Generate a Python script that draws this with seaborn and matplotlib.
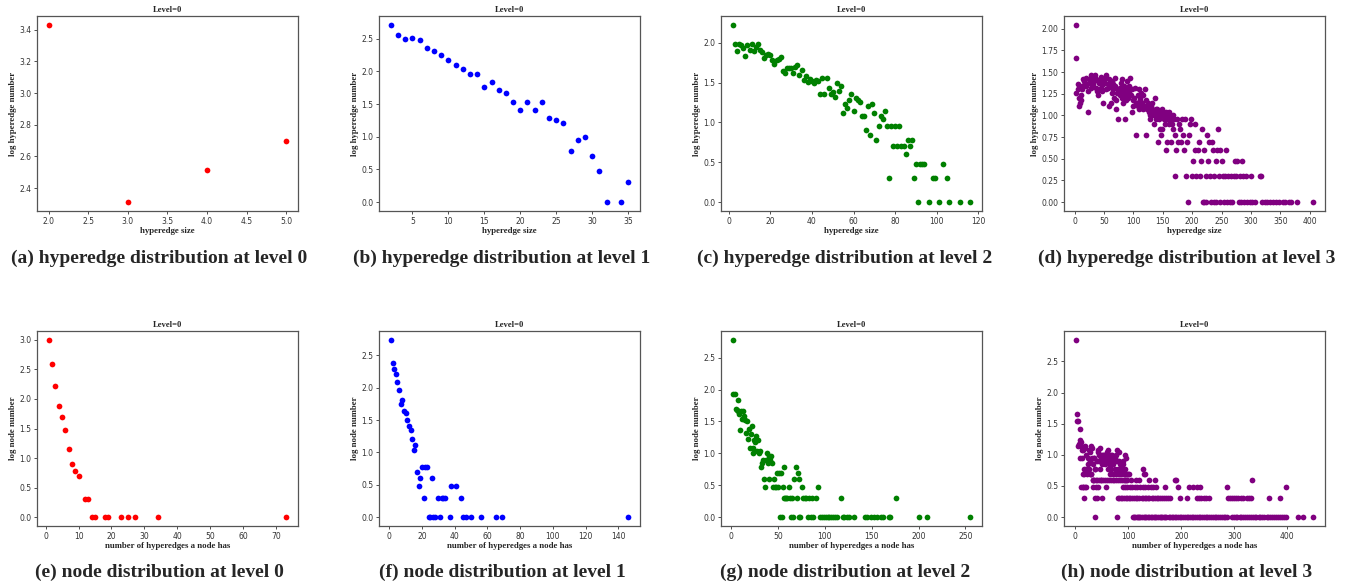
import numpy as np
import pandas as pd
import seaborn as sns
import matplotlib.pyplot as plt
from matplotlib.ticker import MultipleLocator

# counts; plotted as log10(count)

# (a) hyperedges, level 0
he0_size = [2, 3, 4, 5]
he0_count = [2690, 205, 325, 500]

# (b) hyperedges, level 1
he1_size = [2, 3, 4, 5, 6, 7, 8, 9, 10, 11, 12, 13, 14, 15, 16, 17, 18, 19, 20, 21,
            22, 23, 24, 25, 26, 27, 28, 29, 30, 31, 32, 34, 35]
he1_count = [513, 355, 316, 320, 296, 229, 204, 176, 148, 127, 108, 90, 91, 58, 69, 52, 47, 34, 26, 34,
             26, 34, 19, 18, 16, 6, 9, 10, 5, 3, 1, 1, 2]

# (c) hyperedges, level 2
he2_size = list(range(2, 95)) + [96, 98, 99, 101, 103, 105, 106, 111, 116]
he2_count = [168, 96, 80, 98, 94, 87, 69, 93, 81, 96,
             80, 89, 96, 81, 76, 64, 71, 73, 71, 61,
             54, 61, 63, 66, 44, 42, 48, 48, 48, 42,
             49, 52, 40, 45, 34, 38, 32, 35, 33, 31,
             34, 33, 23, 36, 23, 36, 27, 23, 24, 21,
             31, 25, 29, 13, 17, 15, 19, 23, 14, 20,
             19, 18, 12, 12, 8, 16, 7, 17, 13, 6,
             9, 12, 11, 14, 9, 2, 9, 5, 9, 5,
             9, 5, 5, 4, 6, 5, 6, 2, 3, 1,
             3, 3, 3, 1, 2, 2, 1, 3, 2, 1, 1, 1]

# (d) hyperedges, level 3: dense part as (size, count) pairs, tail bands as sizes
he3_points = [(2, 111), (3, 46), (5, 23), (3, 18), (7, 16), (9, 14), (7, 13), (10, 15), (11, 17), (13, 20),
              (14, 26), (17, 24), (20, 22), (22, 11), (23, 19), (26, 26), (28, 21), (29, 28), (32, 23), (35, 29),
              (37, 21), (39, 17), (40, 25), (43, 26), (44, 21), (46, 19), (48, 14), (49, 23), (52, 27), (54, 29),
              (56, 23), (57, 21), (58, 13), (61, 14), (63, 18), (65, 20), (66, 23), (68, 27), (70, 15), (71, 12),
              (72, 18), (74, 9), (75, 19), (78, 21), (80, 26), (81, 16), (83, 19), (85, 9), (86, 17), (88, 15),
              (90, 19), (92, 22), (95, 27), (96, 17), (98, 11), (99, 15), (103, 21), (105, 6), (106, 14), (108, 17),
              (111, 15), (113, 18), (114, 13), (116, 17), (119, 20), (120, 13), (121, 6), (122, 15), (125, 14),
              (126, 11), (128, 9), (129, 10), (131, 14), (133, 11), (135, 8), (137, 16), (139, 9), (141, 12),
              (142, 5), (144, 9), (145, 7), (147, 6), (149, 7), (150, 11), (153, 9), (154, 8), (156, 4), (157, 5),
              (159, 10), (161, 11), (163, 9), (164, 5), (166, 8), (168, 7), (170, 6), (172, 4), (174, 9), (176, 5),
              (178, 8), (179, 7), (181, 5), (183, 9), (184, 6), (186, 4), (188, 9), (191, 5), (194, 6), (196, 8),
              (198, 9), (204, 4), (205, 8), (210, 4), (212, 5), (217, 7), (220, 4), (226, 6), (229, 5), (234, 5),
              (235, 4), (243, 4), (244, 7), (248, 4), (258, 4),
              (6, 20), (12, 22), (16, 25), (19, 27), (24, 24), (27, 29), (31, 25), (34, 27), (38, 19), (42, 24),
              (45, 28), (50, 25), (53, 20), (59, 26), (62, 22), (64, 25), (67, 16), (69, 22), (73, 20), (77, 17),
              (79, 24), (82, 14), (84, 22), (87, 20), (89, 25), (91, 16), (93, 18), (97, 20), (100, 13), (101, 16),
              (104, 14), (107, 13), (109, 20), (110, 12), (112, 16), (115, 14), (117, 12), (118, 13), (123, 12),
              (124, 13), (127, 12), (130, 13), (132, 12), (134, 10), (136, 11), (138, 12), (140, 10), (143, 11),
              (146, 10), (148, 12), (151, 10), (152, 9), (155, 11), (158, 9), (160, 8), (162, 10), (165, 9),
              (167, 10), (169, 9)]
he3_size_1 = [193, 218, 221, 224, 232, 237, 241, 247, 255, 259, 264, 268, 279, 283, 289, 293, 298, 302,
              307, 319, 324, 327, 332, 337, 343, 348, 354, 358, 365, 369, 378, 406]
he3_size_2 = [171, 190, 200, 207, 213, 223, 230, 238, 246, 252, 256, 261, 266, 271, 275, 281, 286, 291,
              300, 315, 317]
he3_size_3 = [201, 215, 227, 240, 250, 273, 276, 285]

# (e) nodes, level 0
nd0_deg = [1, 2, 3, 4, 5, 6, 7, 8, 9, 10, 12, 13, 14, 15, 18, 19, 23, 25, 27, 34, 73]
nd0_count = [1000, 398, 166, 75, 49, 30, 14, 8, 6, 5, 2, 2, 1, 1, 1, 1, 1, 1, 1, 1, 1]

# (f) nodes, level 1
nd1_deg = list(range(1, 24)) + [24, 25, 26, 27, 28, 30, 31, 32, 33, 34, 37, 38, 41, 44, 45, 47, 50,
                                56, 65, 69, 146]
nd1_count = [550, 245, 196, 166, 123, 93, 56, 65, 43, 40, 32, 26, 22, 16, 11, 13, 5, 3, 4, 6, 2, 6, 6,
             1, 1, 4, 1, 1, 2, 1, 2, 2, 2, 1, 3, 3, 2, 1, 1, 1, 1, 1, 1, 1]

# (g) nodes, level 2
nd2_deg = [2, 2, 4, 5, 6, 7, 8, 9, 10, 11,
           12, 13, 14, 15, 16, 17, 18, 19, 20, 21,
           22, 23, 24, 25, 26, 27, 28, 29, 30, 31,
           32, 33, 34, 35, 36, 37, 38, 39, 40, 41,
           42, 43, 44, 45, 46, 47, 48, 49, 50, 51,
           52, 53, 54, 55, 56, 57, 58, 59, 60, 62,
           63, 64, 65, 66, 67, 69, 70, 71, 72, 73,
           74, 76, 77, 79, 80, 82, 83, 85, 86, 87,
           91, 93, 95, 97, 99, 101, 103, 105, 107, 109,
           111, 113, 117, 119, 121, 124, 126, 131, 143, 145,
           149, 152, 156, 160, 162, 168, 170, 176, 201, 209,
           255]
nd2_count = [600, 85, 85, 50, 48, 68, 46, 42, 23, 46,
             35, 46, 38, 33, 21, 32, 17, 24, 12, 20,
             27, 12, 10, 16, 15, 19, 11, 16, 10, 11,
             6, 7, 8, 4, 3, 8, 10, 7, 9, 4,
             8, 9, 7, 3, 4, 3, 3, 5, 3, 5,
             1, 5, 1, 3, 6, 2, 2, 2, 2, 3,
             2, 1, 2, 1, 4, 6, 2, 5, 4, 1,
             1, 3, 2, 2, 2, 1, 2, 1, 2, 1,
             2, 3, 1, 1, 1, 1, 1, 1, 1, 1,
             1, 1, 2, 1, 1, 1, 1, 1, 1, 1,
             1, 1, 1, 1, 1, 1, 1, 2, 1, 1,
             1]

# (h) nodes, level 3: dense part as (degree, count) pairs, tail bands as degrees
nd3_points = [(1, 700), (4, 46), (3, 35), (5, 35), (8, 26), (5, 14), (7, 15), (8, 17), (10, 16), (11, 14),
              (9, 9), (13, 9), (12, 12), (14, 12), (16, 13), (18, 14), (15, 5), (14, 3), (17, 6), (19, 13),
              (20, 6), (21, 10), (22, 5), (23, 7), (24, 9), (25, 12), (26, 6), (27, 11), (28, 8), (29, 5),
              (30, 14), (31, 9), (32, 13), (33, 7), (34, 4), (36, 9), (38, 6), (39, 4), (40, 8), (42, 12),
              (44, 10), (45, 8), (46, 6), (47, 13), (48, 9), (49, 4), (50, 7), (51, 10), (53, 9), (54, 8),
              (55, 10), (56, 7), (57, 9), (59, 8), (60, 10), (61, 6), (62, 12), (63, 9), (64, 8), (65, 7),
              (66, 5), (67, 10), (68, 6), (69, 8), (70, 9), (71, 5), (72, 7), (73, 4), (74, 6), (75, 8),
              (76, 4), (77, 10), (78, 12), (80, 6), (82, 11), (83, 8), (85, 6), (86, 7), (87, 5), (89, 6),
              (90, 7), (92, 5), (93, 4), (94, 6), (95, 9), (97, 4), (98, 5), (100, 5),
              (33, 4), (36, 4), (41, 4), (44, 4), (48, 4), (52, 4), (56, 4), (60, 4), (64, 4), (68, 4),
              (72, 4), (80, 4), (84, 4), (88, 4), (92, 4), (96, 4), (35, 9), (43, 11), (46, 10), (52, 10),
              (55, 8), (58, 9), (60, 11), (63, 7), (66, 8), (70, 10), (74, 9), (78, 8), (84, 7), (90, 8),
              (94, 10), (102, 5), (105, 4), (115, 4), (121, 4), (140, 4), (150, 4), (189, 4), (190, 4), (334, 4),
              (16, 5), (27, 5), (30, 5), (77, 5), (83, 5), (93, 5), (131, 5), (38, 6), (128, 6), (130, 5)]
nd3_deg_1 = [38, 79, 109, 110, 113, 116, 118, 121, 123, 126, 129, 131, 134, 137, 139, 142, 145, 148,
             150, 153, 156, 159, 161, 164, 167, 170, 172, 176, 179, 182, 185, 188, 191, 194, 197, 200,
             204, 207, 210, 213, 216, 220, 223, 226, 229, 233, 236, 239, 242, 246, 249, 252, 256, 259,
             263, 266, 269, 273, 276, 280, 283, 287, 296, 299, 303, 306, 310, 313, 317, 321, 324, 328,
             331, 335, 339, 342, 346, 349, 353, 357, 361, 364, 368, 372, 375, 379, 383, 387, 390, 394,
             398, 420, 430, 449]
nd3_deg_2 = [16, 37, 41, 50, 80, 83, 86, 89, 92, 95, 98, 101, 104, 107, 110, 114, 117, 120, 125, 128,
             131, 134, 137, 140, 144, 147, 150, 154, 157, 160, 164, 167, 171, 175, 178, 197, 210, 229,
             233, 238, 242, 247, 252, 288, 292, 296, 300, 304, 308, 313, 317, 325, 328, 332, 365, 386]
nd3_deg_3 = [11, 14, 18, 21, 34, 39, 43, 58, 90, 94, 98, 103, 107, 112, 117, 122, 127, 132, 137, 142,
             147, 153, 170, 194, 214, 222, 229, 236, 286, 397]


def with_bands(points, *bands):
    x = [p[0] for p in points]
    n = [p[1] for p in points]
    for cnt, xs in bands:
        x += xs
        n += [cnt] * len(xs)
    return x, n


he3_size, he3_count = with_bands(he3_points, (1, he3_size_1), (2, he3_size_2), (3, he3_size_3))
nd3_deg, nd3_count = with_bands(nd3_points, (1, nd3_deg_1), (2, nd3_deg_2), (3, nd3_deg_3))

panels = [
    (he0_size, he0_count, 'red', 0.5, 0.2, '(a) hyperedge distribution at level 0'),
    (he1_size, he1_count, 'blue', 5, 0.5, '(b) hyperedge distribution at level 1'),
    (he2_size, he2_count, 'green', 20, 0.5, '(c) hyperedge distribution at level 2'),
    (he3_size, he3_count, 'purple', 50, 0.25, '(d) hyperedge distribution at level 3'),
    (nd0_deg, nd0_count, 'red', 10, 0.5, '(e) node distribution at level 0'),
    (nd1_deg, nd1_count, 'blue', 20, 0.5, '(f) node distribution at level 1'),
    (nd2_deg, nd2_count, 'green', 50, 0.5, '(g) node distribution at level 2'),
    (nd3_deg, nd3_count, 'purple', 100, 0.5, '(h) node distribution at level 3'),
]

sns.set_style('ticks', {'axes.edgecolor': '#555555'})
plt.rcParams['font.family'] = ['DejaVu Sans']
serif = 'Liberation Serif'

W, H = 1348, 586
fig = plt.figure(figsize=(W / 100, H / 100), dpi=100)
lefts = [37, 379, 721, 1064]
tops = [16, 331]
aw, ah = 261, 195
cap_x = [159, 502, 845, 1187]
cap_y = [258, 572]

for i, (x, n, color, xs, ys, caption) in enumerate(panels):
    r, c = divmod(i, 4)
    ax = fig.add_axes([lefts[c] / W, 1 - (tops[r] + ah) / H, aw / W, ah / H])
    df = pd.DataFrame({'x': x, 'y': np.log10(n)})
    sns.scatterplot(data=df, x='x', y='y', ax=ax, color=color, s=17, linewidth=0, alpha=1)
    ax.xaxis.set_major_locator(MultipleLocator(xs))
    ax.yaxis.set_major_locator(MultipleLocator(ys))
    ax.tick_params(labelsize=5.5, length=2.5, width=0.6, pad=1.5, colors='#333333')
    for sp in ax.spines.values():
        sp.set_linewidth(0.9)
    ax.set_title('Level=0', fontsize=6.2, fontweight='bold', family=serif, pad=3)
    if r == 0:
        ax.set_xlabel('hyperedge size', fontsize=6.3, fontweight='bold', family=serif, labelpad=1)
        ax.set_ylabel('log hyperedge number', fontsize=6.3, fontweight='bold', family=serif, labelpad=2)
    else:
        ax.set_xlabel('number of hyperedges a node has', fontsize=6.3, fontweight='bold', family=serif,
                      labelpad=1)
        ax.set_ylabel('log node number', fontsize=6.3, fontweight='bold', family=serif, labelpad=2)
    fig.text(cap_x[c] / W, 1 - cap_y[r] / H, caption, ha='center', va='center',
             fontsize=14, fontweight='bold', family=serif)

fig.savefig('out.png', dpi=100)
